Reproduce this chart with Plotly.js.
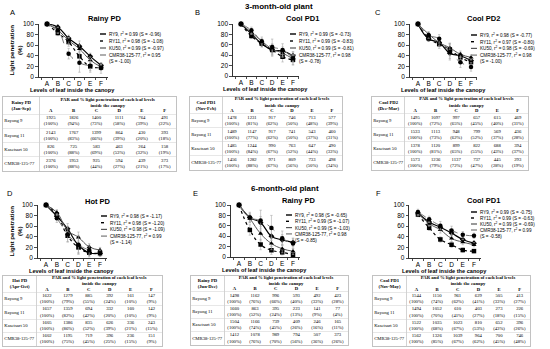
<!DOCTYPE html>
<html><head><meta charset="utf-8">
<script src="https://cdn.plot.ly/plotly-3.0.1.min.js"></script>
<style>html,body{margin:0;padding:0;background:#fff}#chart{width:550px;height:349px}</style>
</head><body><div id="chart"></div>
<script>
// ================= DATA =================
const levels = ['A','B','C','D','E','F'];
const clones = ['RY9','RY11','KU50','CMR38-125-77'];
const tableRowLabels = ['Rayong 9','Rayong 11','Kasetsart 50','CMR38-125-77'];
const panelLetters = ['A','B','C','D','E','F'];
const panelTitles = ['Rainy PD','Cool PD1','Cool PD2','Hot PD','Rainy PD','Cool PD1'];
const tableSeasons = ['Rainy PD<br>(Jan-Sep)','Cool PD1<br>(Nov-Feb)','Cool PD2<br>(Dec-Mar)','Hot PD<br>(Apr-Oct)','Rainy PD<br>(Jun-Dec)','Cool PD1<br>(Nov-May)'];
const ageTitles = ['3-month-old plant','6-month-old plant'];
const tableHeader = 'PAR and % light penetration of each leaf levels<br>inside the canopy';
const xTitle = 'Levels of leaf inside the canopy';
const yTitle = 'Light penetration<br>(%)';

// fit statistics (legend)
const r2A = [0.99,0.98,0.99,0.95], slopeA = [-0.96,-1.08,-0.97,-1.00];
const r2B = [0.99,0.99,0.99,0.98], slopeB = [-0.73,-0.83,-0.81,-0.78];
const r2C = [0.98,0.97,0.98,0.98], slopeC = [-0.77,-0.80,-0.69,-1.00];
const r2D = [0.98,0.98,0.98,0.99], slopeD = [-1.17,-1.20,-1.09,-1.14];
const r2E = [0.98,0.99,0.99,0.98], slopeE = [-0.65,-1.07,-1.03,-0.85];
const r2F = [0.99,0.99,0.99,0.99], slopeF = [-0.75,-0.63,-0.69,-0.58];

// PAR (tables) rows: Rayong 9, Rayong 11, Kasetsart 50, CMR38-125-77
const parA = [[1925,1826,1400,1111,764,491],[2143,1767,1399,864,430,393],[826,725,583,463,264,158],[2376,1953,925,594,439,373]];
const parB = [[1478,1231,917,746,713,577],[1489,1147,917,741,543,460],[1485,1244,990,763,647,490],[1456,1282,971,809,733,498]];
const parC = [[1495,1097,997,657,615,469],[1533,1113,948,799,569,436],[1378,1120,899,822,688,394],[1573,1236,1137,737,445,293]];
const parD = [[1622,1279,885,392,161,147],[1657,1359,694,332,160,142],[1605,1386,835,626,336,243],[1602,1195,719,396,236,151]];
const parE = [[1498,1162,996,593,492,423],[1660,863,395,223,141,77],[1504,1166,739,409,246,165],[1412,1078,989,794,507,373]];
const parF = [[1544,1150,961,629,505,413],[1494,1052,610,403,273,226],[1522,1035,1023,810,652,396],[1562,1326,1039,964,700,746]];

// % light penetration (tables and charts A-E)
const pctA = [[100,94,73,58,39,22],[100,83,66,39,20,18],[100,88,69,53,32,19],[100,88,44,27,21,17]];
const pctB = [[100,81,62,50,48,39],[100,77,62,50,37,31],[100,84,67,52,44,33],[100,88,67,56,50,34]];
const pctC = [[100,72,65,45,40,31],[100,73,62,52,37,28],[100,81,65,55,43,37],[100,79,72,47,28,19]];
const pctD = [[100,79,55,24,10,9],[100,82,42,20,10,9],[100,86,52,39,21,15],[100,75,45,25,15,9]];
const pctE = [[100,76,66,40,33,28],[100,52,24,13,9,4],[100,74,45,26,16,11],[100,76,70,56,36,26]];
const pctF = [[100,74,62,41,33,27],[100,70,41,27,18,15],[100,68,67,53,43,26],[100,85,67,62,45,48]];
// chart F values (as plotted)
const chartF = [[85,68,58,47,35,28],[82,57,35,25,15,13],[84,65,53,37,30,25],[87,73,61,52,44,42]];

// error bars (SD)
const errA = [[0,4,6,10,6,4],[0,5,8,12,8,6],[0,4,6,8,6,4],[0,6,10,18,12,10]];
const errB = [[0,5,6,10,8,8],[0,5,6,12,10,10],[0,4,5,8,8,6],[0,6,8,15,12,12]];
const errC = [[0,5,6,10,6,6],[0,6,8,12,8,6],[0,4,6,8,6,5],[0,6,8,15,10,8]];
const errD = [[0,6,10,14,8,6],[0,8,12,12,6,5],[0,5,8,10,6,5],[0,8,14,18,8,6]];
const errE = [[0,8,12,20,10,8],[0,10,10,8,5,4],[0,8,14,12,8,6],[0,10,20,24,14,10]];
const errF = [[4,5,6,6,5,4],[4,5,5,5,4,3],[4,5,6,6,5,4],[5,6,8,8,6,5]];

// ================= LAYOUT / STYLE =================
const W = 550, H = 349;
const fx = v => v / W, fy = v => 1 - v / H;
const SANS = 'Liberation Sans, Arial, sans-serif';
const SERIF = 'Liberation Serif, Times New Roman, serif';

const panels = [
  {r2:r2A, s:slopeA, par:parA, pct:pctA, vals:pctA, err:errA},
  {r2:r2B, s:slopeB, par:parB, pct:pctB, vals:pctB, err:errB},
  {r2:r2C, s:slopeC, par:parC, pct:pctC, vals:pctC, err:errC},
  {r2:r2D, s:slopeD, par:parD, pct:pctD, vals:pctD, err:errD},
  {r2:r2E, s:slopeE, par:parE, pct:pctE, vals:pctE, err:errE},
  {r2:r2F, s:slopeF, par:parF, pct:pctF, vals:chartF, err:errF}
];

const chartBox = [
  {x0:38.4,x1:107.5,y0:24,y1:77},
  {x0:232.7,x1:299.2,y0:24,y1:76},
  {x0:409.5,x1:477.4,y0:24,y1:77},
  {x0:37.4,x1:106.5,y0:205,y1:258},
  {x0:230.4,x1:299.5,y0:205,y1:257},
  {x0:409,x1:480.7,y0:205,y1:258}
];
const tableBox = [
  {x0:3,x1:176,y0:97,y1:171},
  {x0:190,x1:342,y0:97,y1:170},
  {x0:372,x1:528,y0:97,y1:170},
  {x0:3,x1:162,y0:276,y1:346},
  {x0:191,x1:348,y0:276,y1:345},
  {x0:373,x1:530,y0:276,y1:346}
];
const legendPos = [
  {x:100,y:34,dy:7},{x:290,y:34,dy:7},{x:471,y:35,dy:6.7},
  {x:101,y:216,dy:6.7},{x:286,y:215,dy:6.3},{x:471,y:212,dy:6}
];
const titlePos = [{x:105,y:18},{x:302,y:18},{x:483,y:18},{x:98,y:201},{x:299,y:200},{x:483,y:200}];
const letterPos = [{x:12,y:12},{x:197,y:12},{x:378,y:12},{x:10,y:193},{x:195,y:193},{x:378,y:193}];
const styles = [
  {dash:'solid', color:'#000', width:1.2, symbol:'diamond'},
  {dash:'dot',   color:'#000', width:1.2, symbol:'square'},
  {dash:'solid', color:'#555', width:1.0, symbol:'triangle-up'},
  {dash:'dash',  color:'#777', width:1.0, symbol:'circle'}
];

const data = [];
const layout = {
  width:W, height:H, margin:{l:0,r:0,t:0,b:0},
  paper_bgcolor:'#fff', plot_bgcolor:'rgba(0,0,0,0)',
  showlegend:false, hovermode:false,
  annotations:[], shapes:[]
};
const ann = (o) => layout.annotations.push(Object.assign({xref:'paper',yref:'paper',showarrow:false}, o));
const bold = (size, fam) => ({family:fam||SANS, size:size, color:'#000', weight:'bold'});

const HH = 1.2; // table header height in row units
const colX0 = 1.6; // first column width in table units

panels.forEach((p, i) => {
  const n = i + 1, b = chartBox[i];
  // ---- chart axes ----
  layout['xaxis'+n] = {
    domain:[fx(b.x0), fx(b.x1)], anchor:'y'+n, type:'category', range:[-0.8,5.6],
    showline:true, linecolor:'#000', linewidth:0.8, ticks:'outside', ticklen:2.5, tickwidth:0.7,
    tickcolor:'#000', tickson:'boundaries', tickangle:0, tickfont:{family:SANS,size:6.5,color:'#000'},
    showgrid:false, zeroline:false, fixedrange:true
  };
  layout['yaxis'+n] = {
    domain:[fy(b.y1), fy(b.y0)], anchor:'x'+n, range:[0,100], dtick:20,
    showline:true, linecolor:'#000', linewidth:0.8, ticks:'outside', ticklen:2.5, tickwidth:0.7,
    tickcolor:'#000', tickfont:{family:SANS,size:6.5,color:'#000'},
    showgrid:false, zeroline:false, fixedrange:true
  };
  // ---- chart traces ----
  p.vals.forEach((v, s) => {
    const st = styles[s];
    data.push({
      type:'scatter', mode:'lines+markers', x:levels, y:v, xaxis:'x'+n, yaxis:'y'+n,
      line:{shape:'spline', smoothing:1.3, dash:st.dash, color:st.color, width:st.width},
      marker:{symbol:st.symbol, size:4.5, color:'#000'},
      error_y:{type:'data', array:p.err[s], visible:true, color:'#aaa', thickness:0.6, width:1.2},
      cliponaxis:false, hoverinfo:'skip'
    });
  });
  // ---- legend (line samples + text) ----
  const lp = legendPos[i];
  clones.forEach((c, s) => {
    const st = styles[s];
    const y = lp.y + s * lp.dy;
    layout.shapes.push({type:'line', xref:'paper', yref:'paper', x0:fx(lp.x), x1:fx(lp.x+6), y0:fy(y), y1:fy(y),
      line:{color:st.color, width:st.width+0.2, dash:st.dash}});
    const txt = c + ', r<sup>2</sup> = ' + p.r2[s].toFixed(2) + (s === 3 ? '<br>' : ' ') + '(S = ' + p.s[s].toFixed(2) + ')';
    ann({x:fx(lp.x+7), y:fy(s === 3 ? y + 2.6 : y), xanchor:'left', yanchor:'middle', align:'left',
      text:txt, font:{family:SANS, size:4.6, color:'#000'}});
  });
  // ---- titles ----
  ann({x:fx(titlePos[i].x), y:fy(titlePos[i].y), xanchor:'center', yanchor:'middle',
    text:panelTitles[i], font:bold(7.5)});
  ann({x:fx(letterPos[i].x), y:fy(letterPos[i].y), xanchor:'center', yanchor:'middle',
    text:panelLetters[i], font:{family:SANS,size:7.5,color:'#000'}});
  ann({x:fx((b.x0+b.x1)/2), y:fy(b.y1+13), xanchor:'center', yanchor:'middle',
    text:xTitle, font:bold(5.6)});
  if (i % 3 === 0) {
    ann({x:fx(15), y:fy((b.y0+b.y1)/2), xanchor:'center', yanchor:'middle', textangle:-90,
      text:yTitle, font:bold(6.2)});
  }

  // ---- table (own axes, text marks) ----
  const m = 7 + i, t = tableBox[i];
  layout['xaxis'+m] = {
    domain:[fx(t.x0), fx(t.x1)], anchor:'y'+m, range:[0, colX0+6],
    showgrid:true, tickvals:[colX0], gridcolor:'#b5b5b5', gridwidth:0.6,
    showticklabels:false, ticks:'', zeroline:false, showline:true, mirror:true,
    linecolor:'#9a9a9a', linewidth:0.6, fixedrange:true
  };
  layout['yaxis'+m] = {
    domain:[fy(t.y1), fy(t.y0)], anchor:'x'+m, range:[HH+4, 0],
    showgrid:true, tickvals:[HH, HH+1, HH+2, HH+3], gridcolor:'#cfcfcf', gridwidth:0.5,
    showticklabels:false, ticks:'', zeroline:false, showline:true, mirror:true,
    linecolor:'#9a9a9a', linewidth:0.6, fixedrange:true
  };
  const tf = {family:SERIF, size:4.7, color:'#000'};
  // header: season cell + spanning caption
  data.push({type:'scatter', mode:'text', xaxis:'x'+m, yaxis:'y'+m, cliponaxis:false, hoverinfo:'skip',
    x:[colX0/2, colX0+3], y:[HH/2, 0.38],
    text:[tableSeasons[i], tableHeader],
    textposition:'middle center', textfont:bold(4.7, SERIF)});
  // header: level letters
  data.push({type:'scatter', mode:'text', xaxis:'x'+m, yaxis:'y'+m, cliponaxis:false, hoverinfo:'skip',
    x:levels.map((_, j) => colX0+0.5+j), y:levels.map(() => HH-0.2),
    text:levels, textposition:'middle center', textfont:bold(4.7, SERIF)});
  // row labels
  data.push({type:'scatter', mode:'text', xaxis:'x'+m, yaxis:'y'+m, cliponaxis:false, hoverinfo:'skip',
    x:tableRowLabels.map(() => 0.06), y:tableRowLabels.map((_, r) => HH+0.5+r),
    text:tableRowLabels, textposition:'middle right', textfont:tf});
  // cells
  const cx = [], cy = [], ct = [];
  p.par.forEach((row, r) => row.forEach((v, j) => {
    cx.push(colX0+0.5+j); cy.push(HH+0.5+r); ct.push(v + '<br>(' + p.pct[r][j] + '%)');
  }));
  data.push({type:'scatter', mode:'text', xaxis:'x'+m, yaxis:'y'+m, cliponaxis:false, hoverinfo:'skip',
    x:cx, y:cy, text:ct, textposition:'middle center', textfont:tf});
});

// section titles
ann({x:fx(279), y:fy(7), xanchor:'center', yanchor:'middle', text:ageTitles[0], font:bold(8)});
ann({x:fx(285), y:fy(188), xanchor:'center', yanchor:'middle', text:ageTitles[1], font:bold(8)});

Plotly.newPlot('chart', data, layout, {staticPlot:true, displayModeBar:false});
</script></body></html>
